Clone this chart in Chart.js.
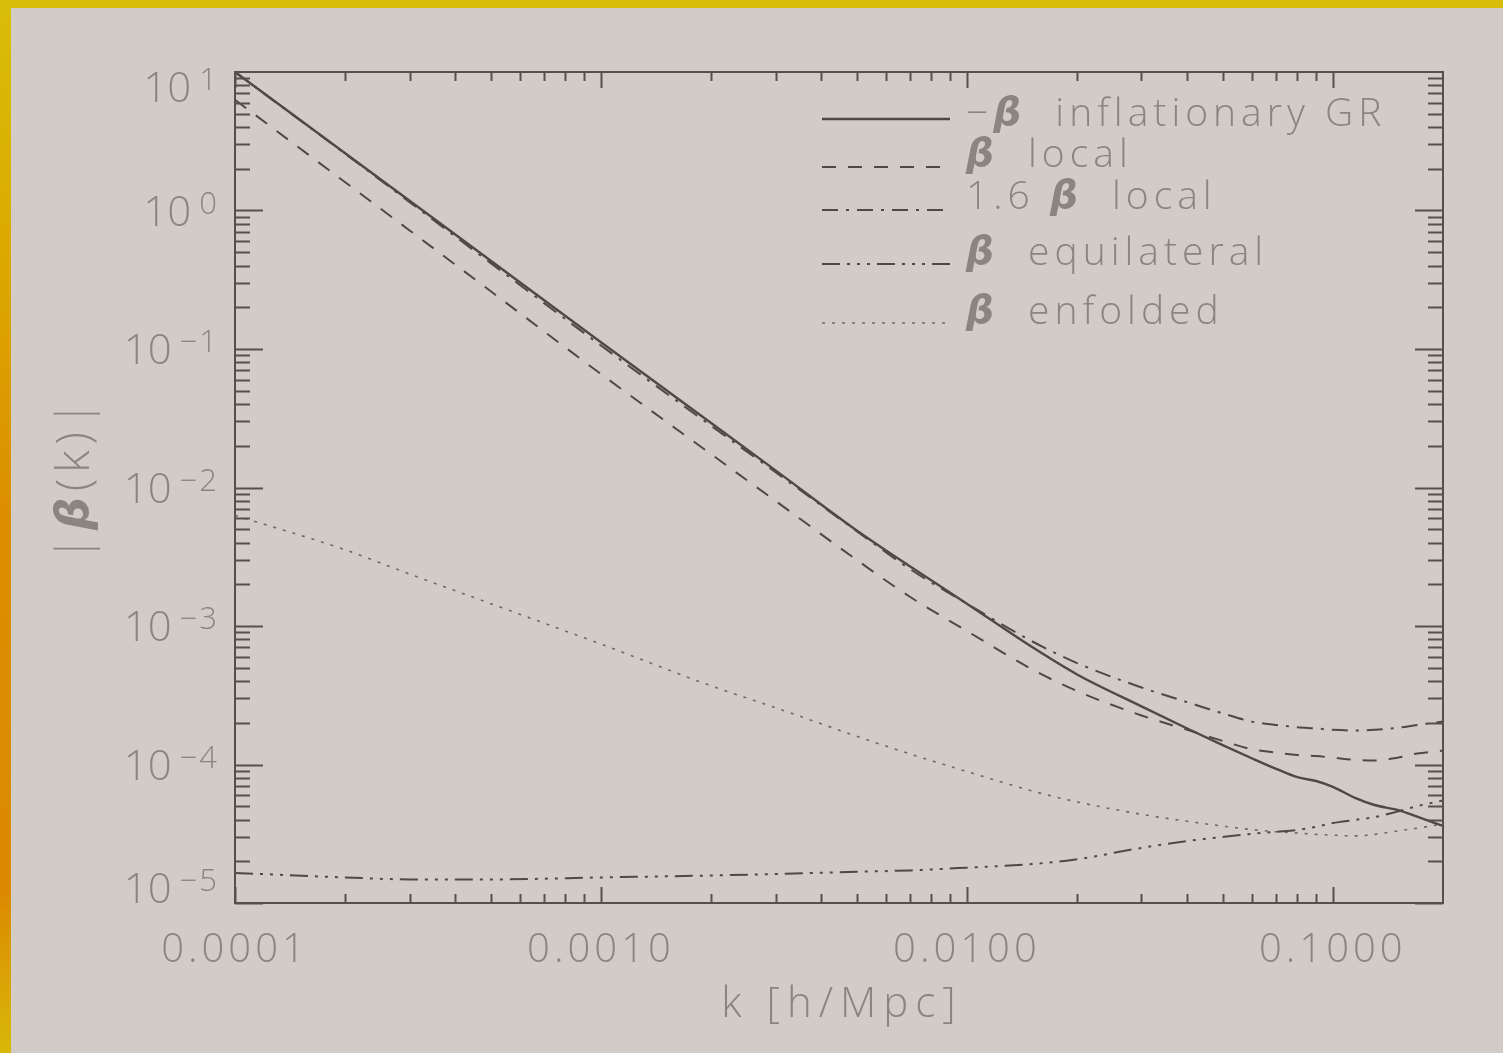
<!DOCTYPE html>
<html>
<head>
<meta charset="utf-8">
<title>beta(k)</title>
<script src="https://cdn.jsdelivr.net/npm/chart.js@4.4.1/dist/chart.umd.min.js"></script>
<style>
  html, body { margin: 0; padding: 0; background: #d3ccc6; overflow: hidden; }
  #wrap { position: relative; width: 1503px; height: 1053px; }
  #topbar { position: absolute; left: 0; top: 0; width: 1503px; height: 8px; background: #d8bd0b; }
  #leftbar { position: absolute; left: 0; top: 0; width: 11px; height: 1053px;
    background: linear-gradient(to bottom, #d8be0a 0%, #dba800 25%, #dc8d00 50%, #db8a00 85%, #d8b80a 100%); }
</style>
</head>
<body>
<div id="wrap">
  <canvas id="chart" width="1503" height="1053"></canvas>
  <div id="leftbar"></div>
  <div id="topbar"></div>
</div>
<script>
// k in h/Mpc
const kValues = [0.0001, 0.0002, 0.0003, 0.0005, 0.001, 0.002, 0.003, 0.005, 0.007, 0.01,
  0.015, 0.02, 0.03, 0.04, 0.05, 0.06, 0.07, 0.08, 0.09, 0.1, 0.115, 0.13, 0.15, 0.17, 0.2];

const betaGR = [10, 2.59, 1.175, 0.434, 0.112, 0.0292, 0.0133, 0.0049, 0.00269, 0.00145,
  7.1e-4, 4.47e-4, 2.63e-4, 1.82e-4, 1.38e-4, 1.11e-4, 9.3e-5, 8.1e-5, 7.6e-5, 6.9e-5,
  5.75e-5, 5.1e-5, 4.7e-5, 4.2e-5, 3.6e-5];
const betaLocal = [6.3, 1.60, 0.718, 0.261, 0.066, 0.0174, 0.0080, 0.0030, 0.00162, 9.2e-4,
  4.9e-4, 3.39e-4, 2.26e-4, 1.78e-4, 1.48e-4, 1.29e-4, 1.22e-4, 1.17e-4, 1.15e-4, 1.12e-4,
  1.08e-4, 1.07e-4, 1.12e-4, 1.20e-4, 1.26e-4];
const beta16Local = [10, 2.57, 1.15, 0.417, 0.106, 0.0279, 0.0129, 0.00484, 0.00257, 0.00145,
  7.8e-4, 5.4e-4, 3.6e-4, 2.82e-4, 2.34e-4, 2.04e-4, 1.93e-4, 1.86e-4, 1.82e-4, 1.78e-4,
  1.76e-4, 1.78e-4, 1.84e-4, 1.93e-4, 2.04e-4];
const betaEquil = [1.65e-5, 1.53e-5, 1.48e-5, 1.48e-5, 1.53e-5, 1.58e-5, 1.62e-5, 1.68e-5, 1.72e-5, 1.80e-5,
  1.91e-5, 2.07e-5, 2.5e-5, 2.8e-5, 3.0e-5, 3.16e-5, 3.27e-5, 3.37e-5, 3.55e-5, 3.78e-5,
  3.98e-5, 4.17e-5, 4.57e-5, 5.0e-5, 5.5e-5];
const betaEnfold = [6.3e-3, 3.55e-3, 2.37e-3, 1.45e-3, 7.4e-4, 3.7e-4, 2.57e-4, 1.6e-4, 1.19e-4, 8.9e-5,
  6.46e-5, 5.37e-5, 4.37e-5, 3.89e-5, 3.59e-5, 3.39e-5, 3.27e-5, 3.2e-5, 3.13e-5, 3.09e-5,
  3.05e-5, 3.13e-5, 3.31e-5, 3.47e-5, 3.72e-5];

const seriesLabels = ["−β inflationary GR", "β local", "1.6 β local", "β equilateral", "β enfolded"];
const xTicks = [0.0001, 0.001, 0.01, 0.1];
const xTickLabels = ["0.0001", "0.0010", "0.0100", "0.1000"];
const yTicks = [10, 1, 0.1, 0.01, 0.001, 0.0001, 0.00001];
const yTickExps = ["1", "0", "−1", "−2", "−3", "−4", "−5"];

const TEXT = "#8a8580";
const AXIS = "#55504b";
const LINE = "#4e4946";
const FONT = "'Open Sans', 'DejaVu Sans', sans-serif";

const pts = (ys) => kValues.map((k, i) => ({ x: k, y: ys[i] }));

// wider lettering, like the original plot font
const spacing = {
  id: "spacing",
  beforeDraw(chart) { chart.ctx.letterSpacing = "4px"; }
};

// IDL-style frame: box plus inward ticks on all four sides, y labels as 10^n
const frame = {
  id: "frame",
  afterDraw(chart) {
    const { ctx, chartArea: a, scales: { x, y } } = chart;
    ctx.save();
    ctx.strokeStyle = AXIS;
    ctx.lineWidth = 2;
    ctx.setLineDash([]);
    ctx.strokeRect(a.left, a.top, a.right - a.left, a.bottom - a.top);
    ctx.beginPath();
    for (let e = -4; e <= -1; e++) {
      for (let m = 1; m <= 9; m++) {
        const v = m * Math.pow(10, e);
        if (v >= x.max) break;
        const px = Math.round(x.getPixelForValue(v)) + 0.5;
        const len = m === 1 ? 16 : 9;
        ctx.moveTo(px, a.bottom); ctx.lineTo(px, a.bottom - len);
        ctx.moveTo(px, a.top); ctx.lineTo(px, a.top + len);
      }
    }
    for (let e = -5; e <= 0; e++) {
      for (let m = 1; m <= 9; m++) {
        const v = m * Math.pow(10, e);
        const py = Math.round(y.getPixelForValue(v)) + 0.5;
        const len = m === 1 ? 28 : 15;
        ctx.moveTo(a.left, py); ctx.lineTo(a.left + len, py);
        ctx.moveTo(a.right, py); ctx.lineTo(a.right - len, py);
      }
    }
    ctx.stroke();

    // y tick labels
    ctx.fillStyle = TEXT;
    ctx.textBaseline = "alphabetic";
    yTicks.forEach((v, i) => {
      let py = y.getPixelForValue(v);
      if (i === 0) py += 15;
      if (i === yTicks.length - 1) py -= 15;
      const right = a.left - 16;
      ctx.letterSpacing = "2px";
      ctx.font = "300 31px " + FONT;
      ctx.textAlign = "right";
      const ew = ctx.measureText(yTickExps[i]).width;
      ctx.fillText(yTickExps[i], right, py + 3);
      ctx.letterSpacing = "0px";
      ctx.font = "300 42px " + FONT;
      ctx.fillText("10", right - ew - 8, py + 15);
    });

    // axis titles
    ctx.textAlign = "center";
    ctx.textBaseline = "middle";
    ctx.letterSpacing = "7px";
    ctx.font = "300 42px " + FONT;
    ctx.fillText("k [h/Mpc]", (a.left + a.right) / 2 + 3, 1005);
    ctx.save();
    ctx.translate(76, 478);
    ctx.rotate(-Math.PI / 2);
    ctx.letterSpacing = "6px";
    drawRich(ctx, "|β(k)|", 0, 0, 46, true, 0);
    ctx.restore();
    ctx.restore();
  }
};

// text with a slanted beta
function drawRich(ctx, text, x, y, size, center, gap) {
  const parts = text.split("β");
  const normal = "300 " + size + "px " + FONT;
  const beta = "italic 600 " + size + "px 'DejaVu Sans', sans-serif";
  let total = 0;
  parts.forEach((p, i) => {
    ctx.font = normal; total += ctx.measureText(p).width;
    if (i < parts.length - 1) { ctx.font = beta; total += ctx.measureText("β").width + gap; }
  });
  let cx = center ? x - total / 2 : x;
  ctx.textAlign = "left";
  parts.forEach((p, i) => {
    ctx.font = normal; ctx.fillText(p, cx, y); cx += ctx.measureText(p).width;
    if (i < parts.length - 1) {
      ctx.font = beta; ctx.fillText("β", cx, y); cx += ctx.measureText("β").width + gap;
    }
  });
}

const legendRows = [
  { lineY: 119, textY: 115 },
  { lineY: 167, textY: 156 },
  { lineY: 210, textY: 198 },
  { lineY: 264, textY: 254 },
  { lineY: 323, textY: 313 }
];

const legendBox = {
  id: "legendBox",
  afterDraw(chart) {
    const ctx = chart.ctx;
    ctx.save();
    chart.data.datasets.forEach((ds, i) => {
      const row = legendRows[i];
      ctx.strokeStyle = ds.borderColor;
      ctx.lineWidth = ds.borderWidth;
      ctx.setLineDash(ds.borderDash || []);
      ctx.beginPath();
      ctx.moveTo(822, row.lineY);
      ctx.lineTo(950, row.lineY);
      ctx.stroke();
      ctx.setLineDash([]);
      ctx.fillStyle = TEXT;
      ctx.textBaseline = "middle";
      ctx.letterSpacing = "5px";
      drawRich(ctx, ds.label, 966, row.textY, 39, false, 14);
    });
    ctx.restore();
  }
};

new Chart(document.getElementById("chart"), {
  type: "line",
  data: {
    datasets: [
      { label: seriesLabels[0], data: pts(betaGR), borderColor: LINE, borderWidth: 2.4, borderDash: [] },
      { label: seriesLabels[1], data: pts(betaLocal), borderColor: LINE, borderWidth: 2, borderDash: [14, 12] },
      { label: seriesLabels[2], data: pts(beta16Local), borderColor: LINE, borderWidth: 2, borderDash: [16, 8, 3, 8] },
      { label: seriesLabels[3], data: pts(betaEquil), borderColor: LINE, borderWidth: 2, borderDash: [18, 7, 3, 7, 3, 7, 3, 7] },
      { label: seriesLabels[4], data: pts(betaEnfold), borderColor: "#6e6964", borderWidth: 1.6, borderDash: [3, 7] }
    ]
  },
  options: {
    responsive: false,
    animation: false,
    layout: { padding: { top: 72, right: 60, left: 0, bottom: 0 } },
    elements: { point: { radius: 0 }, line: { cubicInterpolationMode: "monotone", fill: false } },
    plugins: { legend: { display: false }, tooltip: { enabled: false } },
    scales: {
      x: {
        type: "logarithmic",
        min: 0.0001,
        max: 0.2,
        grid: { display: false },
        border: { display: false },
        afterBuildTicks: (s) => { s.ticks = xTicks.map((v) => ({ value: v })); },
        afterFit: (s) => { s.height = 150; },
        ticks: {
          color: TEXT,
          padding: 16,
          maxRotation: 0,
          autoSkip: false,
          font: { family: FONT, size: 40, weight: 300 },
          callback: (v) => xTickLabels[xTicks.indexOf(v)] ?? ""
        }
      },
      y: {
        type: "logarithmic",
        min: 0.00001,
        max: 10,
        grid: { display: false },
        border: { display: false },
        afterFit: (s) => { s.width = 235; },
        ticks: { display: false }
      }
    }
  },
  plugins: [spacing, frame, legendBox]
});
</script>
</body>
</html>
